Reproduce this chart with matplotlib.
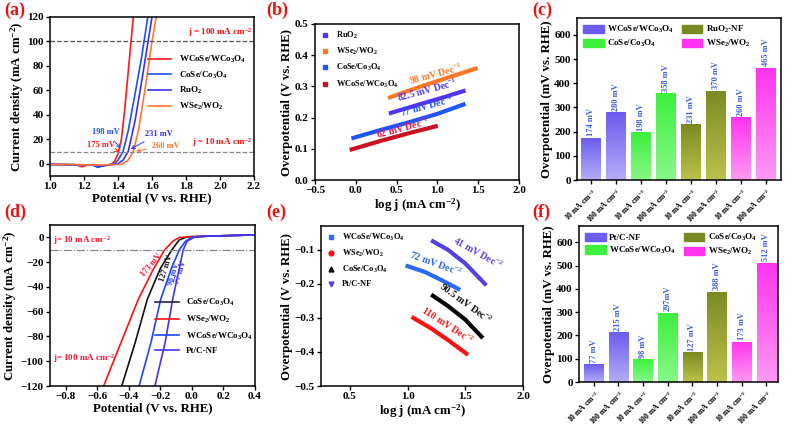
import numpy as np
import matplotlib
matplotlib.use("Agg")
import matplotlib.pyplot as plt
from matplotlib.patches import Patch
from matplotlib.lines import Line2D
from matplotlib.colors import LinearSegmentedColormap

plt.rcParams['font.family'] = ['Liberation Serif', 'DejaVu Serif']
plt.rcParams['font.weight'] = 'bold'
plt.rcParams['axes.labelweight'] = 'bold'
plt.rcParams['mathtext.fontset'] = 'custom'
plt.rcParams['mathtext.rm'] = 'Liberation Serif:bold'
plt.rcParams['mathtext.it'] = 'Liberation Serif:italic:bold'
plt.rcParams['mathtext.bf'] = 'Liberation Serif:bold'
plt.rcParams['mathtext.default'] = 'rm'
plt.rcParams['axes.linewidth'] = 1.1

# ---------------------------
# data: (a) OER polarisation curves
# ---------------------------
a_wcose_x = [1.00, 1.15, 1.19, 1.22, 1.30, 1.36, 1.38, 1.40, 1.42, 1.44, 1.46, 1.48, 1.49]
a_wcose_y = [-0.5, -0.8, -2.5, -1.0, -1.5, -0.5, 2, 8, 20, 45, 75, 105, 120]
a_cose_x = [1.00, 1.25, 1.28, 1.32, 1.38, 1.40, 1.43, 1.46, 1.50, 1.54, 1.575]
a_cose_y = [-0.5, -1.0, -3.0, -1.5, 0, 3, 10, 27, 57, 88, 120]
a_ruo2_x = [1.00, 1.25, 1.29, 1.35, 1.40, 1.43, 1.46, 1.50, 1.54, 1.60]
a_ruo2_y = [-0.5, -1.0, -2.0, -1.0, 0, 3, 10, 35, 68, 120]
a_wse2_x = [1.00, 1.30, 1.42, 1.46, 1.49, 1.52, 1.56, 1.60, 1.625]
a_wse2_y = [-0.5, -1.0, -0.5, 3, 10, 27, 62, 100, 120]

# (b) OER Tafel
b_ruo2_x = [0.43, 0.75, 1.05, 1.32]
b_ruo2_y = [0.215, 0.240, 0.263, 0.285]
b_wse2_x = [0.42, 0.80, 1.15, 1.47]
b_wse2_y = [0.265, 0.300, 0.330, 0.357]
b_cose_x = [-0.03, 0.30, 0.65, 1.00, 1.32]
b_cose_y = [0.135, 0.160, 0.185, 0.212, 0.242]
b_wcose_x = [-0.05, 0.30, 0.65, 0.98]
b_wcose_y = [0.098, 0.125, 0.150, 0.172]

# (c) OER overpotentials
c_vals = [174, 280, 198, 358, 231, 370, 260, 465]
c_names = ['WCoSe/WCo$_3$O$_4$', 'CoSe/Co$_3$O$_4$', 'RuO$_2$-NF', 'WSe$_2$/WO$_2$']
c_labels = ['174 mV', '280 mV', '198 mV', '358 mV', '231 mV', '370 mV', '260 mV', '465 mV']

# (d) HER polarisation curves
d_cose_x = [-0.445, -0.36, -0.283, -0.20, -0.127, -0.08, -0.03, 0.10, 0.40]
d_cose_y = [-120, -85, -50, -25, -10, -2, 0.5, 1.0, 2.0]
d_wse2_x = [-0.56, -0.45, -0.34, -0.25, -0.173, -0.12, -0.08, 0.10, 0.40]
d_wse2_y = [-120, -85, -50, -27, -10, -3, 0, 1.0, 2.0]
d_wcose_x = [-0.335, -0.26, -0.198, -0.13, -0.08, -0.04, 0.0, 0.10, 0.40]
d_wcose_y = [-120, -85, -50, -25, -10, -3, 0, 1.0, 2.0]
d_ptc_x = [-0.235, -0.17, -0.122, -0.08, -0.055, -0.03, 0.02, 0.10, 0.40]
d_ptc_y = [-120, -85, -50, -25, -10, -3, 0.5, 1.0, 2.0]

# (e) HER Tafel
e_ptc_x = [1.22, 1.35, 1.50, 1.67]
e_ptc_y = [-0.075, -0.100, -0.140, -0.200]
e_wcose_x = [1.00, 1.15, 1.30, 1.44]
e_wcose_y = [-0.148, -0.165, -0.190, -0.215]
e_cose_x = [1.22, 1.35, 1.50, 1.64]
e_cose_y = [-0.235, -0.265, -0.305, -0.355]
e_wse2_x = [1.05, 1.20, 1.35, 1.51]
e_wse2_y = [-0.300, -0.330, -0.365, -0.405]

# (f) HER overpotentials
f_vals = [77, 215, 98, 297, 127, 388, 173, 512]
f_names = ['Pt/C-NF', 'WCoSe/WCo$_3$O$_4$', 'CoSe/Co$_3$O$_4$', 'WSe$_2$/WO$_2$']
f_labels = ['77 mV', '215 mV', '98 mV', '297mV', '127 mV', '388 mV', '173 mV', '512 mV']

bar_ticks = ['10 mA cm$^{-2}$', '100 mA cm$^{-2}$'] * 4

W, H = 800, 426
LBL = 9.3
TAF = 3.0
fig = plt.figure(figsize=(8, 4.26), dpi=100)


def ax_px(l, t, r, b):
    return fig.add_axes([l / W, 1 - b / H, (r - l) / W, (b - t) / H])


def style(ax):
    ax.tick_params(labelsize=8, width=1, length=3, pad=1.5)
    for lab in ax.get_xticklabels() + ax.get_yticklabels():
        lab.set_fontweight('bold')


# ---------------------------
# (a)
# ---------------------------
ax = ax_px(50, 17, 254, 176)
ax.plot(a_wcose_x, a_wcose_y, color='#ff1a1a', lw=1.2, label='WCoSe/WCo$_3$O$_4$')
ax.plot(a_cose_x, a_cose_y, color='#1f4fff', lw=1.2, label='CoSe/Co$_3$O$_4$')
ax.plot(a_ruo2_x, a_ruo2_y, color='#3a30ee', lw=1.2, label='RuO$_2$')
ax.plot(a_wse2_x, a_wse2_y, color='#ff7733', lw=1.2, label='WSe$_2$/WO$_2$')
ax.axhline(100, color='#555555', ls='--', lw=0.9)
ax.axhline(10, color='#888888', ls='--', lw=0.9)
ax.text(2.19, 102, 'j = 100 mA cm$^{-2}$', color='#ee1111', fontsize=6.5, ha='right', va='bottom')
ax.text(2.19, 12, 'j = 10 mA cm$^{-2}$', color='#ee1111', fontsize=6.5, ha='right', va='bottom')
arr = dict(arrowstyle='->', lw=0.7)
ax.annotate('198 mV', xy=(1.428, 11), xytext=(1.25, 24), color='#1f4fff', fontsize=6,
            arrowprops=dict(arr, color='#1f4fff'))
ax.annotate('175 mV', xy=(1.405, 10), xytext=(1.22, 14), color='#ff1a1a', fontsize=6,
            arrowprops=dict(arr, color='#ff1a1a'))
ax.annotate('231 mV', xy=(1.461, 11), xytext=(1.56, 23), color='#3a30ee', fontsize=6,
            arrowprops=dict(arr, color='#3a30ee'))
ax.annotate('260 mV', xy=(1.49, 10), xytext=(1.60, 13), color='#ff7733', fontsize=6,
            arrowprops=dict(arr, color='#ff7733'))
ax.set_xlim(1.0, 2.2)
ax.set_ylim(-10, 120)
ax.set_xticks(np.arange(1.0, 2.21, 0.2))
ax.set_yticks(np.arange(0, 121, 20))
ax.set_xlabel('Potential (V vs. RHE)', fontsize=LBL, labelpad=1)
ax.set_ylabel('Current density (mA cm$^{-2}$)', fontsize=LBL, labelpad=1)
ax.legend(loc='upper right', bbox_to_anchor=(1.0, 0.82), frameon=False, fontsize=6.5,
          handlelength=2.6, labelspacing=0.5)
style(ax)

# ---------------------------
# (b)
# ---------------------------
ax = ax_px(315, 24, 519, 180)
b_cols = ['#5533ee', '#ff7722', '#2255ff', '#cc1122']
ax.plot(b_ruo2_x, b_ruo2_y, color=b_cols[0], lw=TAF)
ax.plot(b_wse2_x, b_wse2_y, color=b_cols[1], lw=TAF)
ax.plot(b_cose_x, b_cose_y, color=b_cols[2], lw=TAF)
ax.plot(b_wcose_x, b_wcose_y, color=b_cols[3], lw=TAF)
ax.text(0.98, 0.340, '98 mV Dec$^{-1}$', color='#ff7722', fontsize=7, rotation=15, ha='center', va='center')
ax.text(0.87, 0.290, '82.5 mV Dec$^{-1}$', color='#5533ee', fontsize=7, rotation=15, ha='center', va='center')
ax.text(0.87, 0.236, '77 mV Dec$^{-1}$', color='#2255ff', fontsize=7, rotation=15, ha='center', va='center')
ax.text(0.58, 0.167, '62 mV Dec$^{-1}$', color='#ee1144', fontsize=7, rotation=15, ha='center', va='center')
b_handles = [Line2D([], [], marker='s', ls='none', color=c, markersize=3.5) for c in b_cols]
ax.legend(b_handles, ['RuO$_2$', 'WSe$_2$/WO$_2$', 'CoSe/Co$_3$O$_4$', 'WCoSe/WCo$_3$O$_4$'],
          loc='upper left', frameon=False, fontsize=6, handlelength=1, labelspacing=0.6,
          borderaxespad=0.3)
ax.set_xlim(-0.5, 2.0)
ax.set_ylim(0, 0.5)
ax.set_xticks(np.arange(-0.5, 2.01, 0.5))
ax.set_yticks(np.arange(0, 0.51, 0.1))
ax.set_xlabel('log j (mA cm$^{-2}$)', fontsize=LBL, labelpad=1)
ax.set_ylabel('Overpotential (V vs. RHE)', fontsize=LBL, labelpad=1)
style(ax)


# ---------------------------
# bar helper for (c) and (f)
# ---------------------------
def gradient_bars(ax, vals, tops, bottoms, labels, names, xlim):
    x = np.arange(len(vals))
    bars = ax.bar(x, vals, 0.8, color=[tops[i // 2] for i in range(len(vals))], zorder=2)
    grad = np.linspace(0, 1, 100).reshape(-1, 1)
    for i, bar in enumerate(bars):
        cm = LinearSegmentedColormap.from_list('g', [bottoms[i // 2], tops[i // 2]])
        im = ax.imshow(grad, extent=[bar.get_x(), bar.get_x() + bar.get_width(), 0, vals[i]],
                       origin='lower', cmap=cm, aspect='auto', zorder=2.5)
        im.set_clip_path(bar)
        ax.text(x[i], vals[i] + 6, labels[i], rotation=90, ha='center', va='bottom',
                color='#3a5ee8', fontsize=6)
    ax.set_xlim(*xlim)
    ax.set_ylim(0, 670)
    ax.set_xticks(x)
    ax.set_xticklabels(bar_ticks, rotation=45, ha='right', rotation_mode='anchor', fontsize=5.5)
    ax.set_yticks(np.arange(0, 601, 100))
    ax.set_ylabel('Overpotential (mV vs. RHE)', fontsize=LBL, labelpad=1)
    handles = [Patch(color=c) for c in tops]
    ax.legend(handles, names, ncol=2, loc='upper left',
              frameon=False, fontsize=6.5, handlelength=2.3, handleheight=1.0, columnspacing=0.8,
              borderaxespad=0.25, labelspacing=0.3, handletextpad=0.4)
    ax.tick_params(labelsize=8, width=1, length=3, pad=1.5)
    ax.tick_params(axis='x', labelsize=5.5)
    for lab in ax.get_yticklabels():
        lab.set_fontweight('bold')


# (c)
ax = ax_px(577, 18, 781, 180)
c_tops = ['#6a5cf0', '#3cf03c', '#7a8a22', '#ff33ee']
c_bottoms = ['#b4acf6', '#88f888', '#bcc24a', '#ff99f4']
gradient_bars(ax, c_vals, c_tops, c_bottoms, c_labels, c_names, (-0.56, 7.6))

# ---------------------------
# (d)
# ---------------------------
ax = ax_px(50, 225, 255, 386)
ax.plot(d_cose_x, d_cose_y, color='#111111', lw=1.2)
ax.plot(d_wse2_x, d_wse2_y, color='#ff1111', lw=1.2)
ax.plot(d_wcose_x, d_wcose_y, color='#2244ff', lw=1.2)
ax.plot(d_ptc_x, d_ptc_y, color='#4433ee', lw=1.2)
ax.axhline(-10, color='#888888', ls='-.', lw=0.9)
ax.text(-0.88, -8, 'j= 10 mA cm$^{-2}$', color='#ff1133', fontsize=6.5, va='bottom')
ax.text(-0.88, -98, 'j= 100 mA cm$^{-2}$', color='#ff1133', fontsize=6.5, va='center')
ax.text(-0.255, -22, '173 mV', color='#ff1133', fontsize=6, rotation=50, ha='center', va='center')
ax.text(-0.165, -25, '127 mV', color='#111111', fontsize=6, rotation=72, ha='center', va='center')
ax.text(-0.115, -30, '98 mV', color='#2244ff', fontsize=6, rotation=72, ha='center', va='center')
ax.text(-0.07, -28, '77 mV', color='#4433ee', fontsize=6, rotation=72, ha='center', va='center')
d_handles = [Line2D([], [], color=c, lw=1.2) for c in ['#222244', '#ff1111', '#2244ff', '#4433ee']]
ax.legend(d_handles, ['CoSe/Co$_3$O$_4$', 'WSe$_2$/WO$_2$', 'WCoSe/WCo$_3$O$_4$', 'Pt/C-NF'],
          loc='lower right', bbox_to_anchor=(1.03, 0.14), frameon=False, fontsize=6.5,
          handlelength=2.6, labelspacing=0.6)
ax.set_xlim(-0.9, 0.4)
ax.set_ylim(-120, 10)
ax.set_xticks(np.arange(-0.8, 0.41, 0.2))
ax.set_yticks(np.arange(-120, 1, 20))
ax.set_xlabel('Potential (V vs. RHE)', fontsize=LBL, labelpad=1)
ax.set_ylabel('Current density (mA cm$^{-2}$)', fontsize=LBL, labelpad=1)
style(ax)

# ---------------------------
# (e)
# ---------------------------
ax = ax_px(321, 226, 523, 386)
ax.plot(e_ptc_x, e_ptc_y, color='#5540e0', lw=TAF)
ax.plot(e_wcose_x, e_wcose_y, color='#2a6af0', lw=TAF)
ax.plot(e_cose_x, e_cose_y, color='#050505', lw=TAF)
ax.plot(e_wse2_x, e_wse2_y, color='#ff1010', lw=TAF)
ax.text(1.61, -0.110, '41 mV Dec$^{-2}$', color='#5540e0', fontsize=7, rotation=-29, ha='center', va='center')
ax.text(1.24, -0.141, '72 mV Dec$^{-2}$', color='#2a6af0', fontsize=7, rotation=-20, ha='center', va='center')
ax.text(1.50, -0.258, '90.5 mV Dec$^{-2}$', color='#111111', fontsize=7, rotation=-36, ha='center', va='center')
ax.text(1.34, -0.322, '110 mV Dec$^{-2}$', color='#ff1010', fontsize=7, rotation=-33, ha='center', va='center')
e_handles = [Line2D([], [], marker=m, ls='none', color=c, markersize=3.5)
             for m, c in zip(['s', 'o', '^', 'v'], ['#2a6af0', '#ff1010', '#050505', '#5540e0'])]
ax.legend(e_handles, ['WCoSe/WCo$_3$O$_4$', 'WSe$_2$/WO$_2$', 'CoSe/Co$_3$O$_4$', 'Pt/C-NF'],
          loc='upper left', frameon=False, fontsize=6, handlelength=1, labelspacing=0.6,
          borderaxespad=0.3)
ax.set_xlim(0.25, 2.0)
ax.set_ylim(-0.5, -0.03)
ax.set_xticks([0.5, 1.0, 1.5, 2.0])
ax.set_yticks([-0.5, -0.4, -0.3, -0.2, -0.1])
ax.set_xlabel('log j (mA cm$^{-2}$)', fontsize=LBL, labelpad=1)
ax.set_ylabel('Overpotential (V vs. RHE)', fontsize=LBL, labelpad=1)
style(ax)

# (f)
ax = ax_px(579, 226, 778, 382)
f_tops = ['#6a5cf0', '#3cf03c', '#7a8a22', '#ff33ee']
f_bottoms = ['#b4acf6', '#88f888', '#bcc24a', '#ff99f4']
gradient_bars(ax, f_vals, f_tops, f_bottoms, f_labels, f_names, (-0.6, 7.47))

# panel letters
for lab, px, py in [('(a)', 4, 2), ('(b)', 266, 2), ('(c)', 532, 2),
                    ('(d)', 4, 204), ('(e)', 266, 204), ('(f)', 532, 204)]:
    fig.text(px / W, 1 - py / H, lab, color='#ee1111', fontsize=13, fontweight='bold',
             ha='left', va='top')

fig.savefig('out.png', dpi=100)
